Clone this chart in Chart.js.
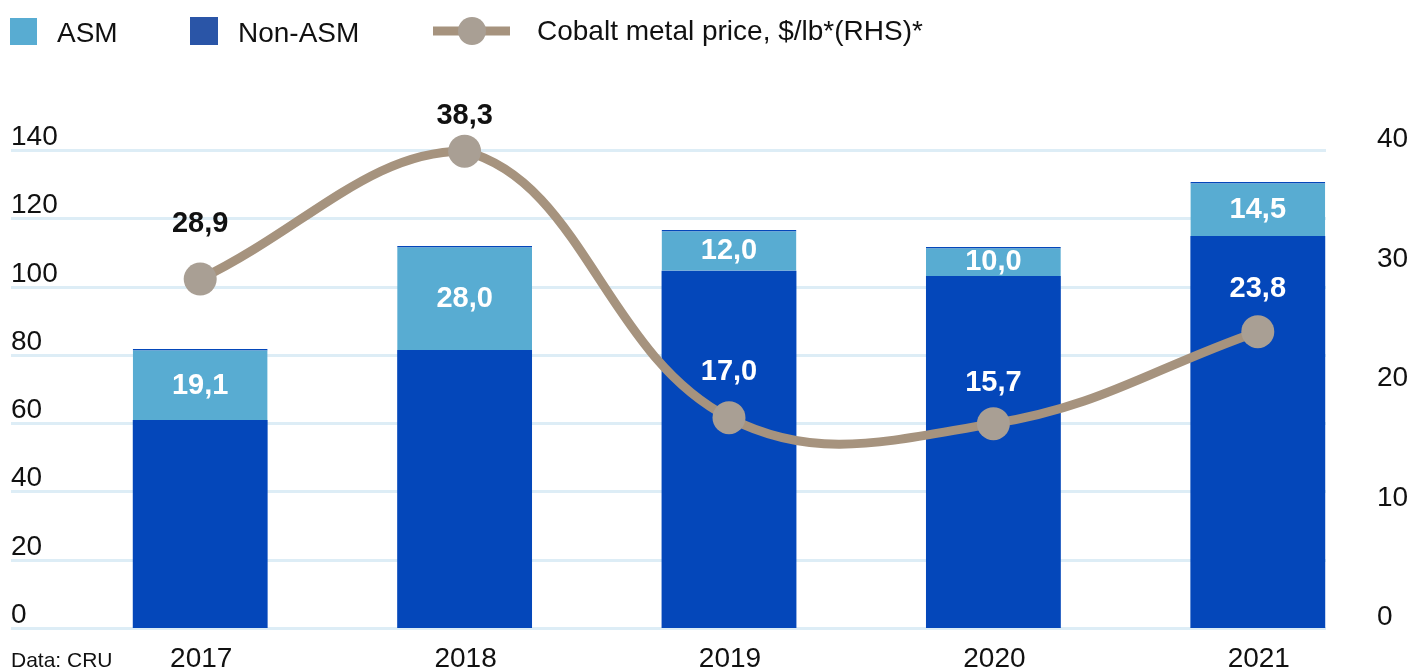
<!DOCTYPE html>
<html>
<head>
<meta charset="utf-8">
<script src="https://cdn.jsdelivr.net/npm/chart.js@4"></script>
<style>
    body { margin: 0; background: #fff; }
    #wrap { width: 1412px; height: 670px; }
</style>
</head>
<body>
<div id="wrap"><canvas id="cobaltChart" width="1412" height="670"></canvas></div>
<script>
"use strict";

// Chart data (thousand tonnes, LHS) and price ($/lb, RHS)
const years = ["2017", "2018", "2019", "2020", "2021"];
const nonAsmValues = [60.9, 81.4, 104.6, 103.1, 114.8];
const asmValues = [20.8, 30.5, 12.0, 8.5, 15.8];
const asmLabels = [19.1, 28.0, 12.0, 10.0, 14.5];
const priceValues = [29.2, 39.9, 17.6, 17.1, 24.8];
const priceLabels = [28.9, 38.3, 17.0, 15.7, 23.8];
const leftTicks = [0, 20, 40, 60, 80, 100, 120, 140];
const rightTicks = [0, 10, 20, 30, 40];

const FONT = "'Liberation Sans', Arial, Helvetica, sans-serif";
const ASM_COLOR = "#58acd2";
const NON_ASM_COLOR = "#0447ba";
const LINE_COLOR = "#a6937e";
const POINT_COLOR = "#a99f94";

function fmt(v) {
    return v.toFixed(1).replace(".", ",");
}

const cobaltDecor = {
    id: "cobaltDecor",
    beforeDatasetsDraw(chart) {
        const { ctx, scales: { y } } = chart;
        ctx.save();
        ctx.strokeStyle = "#ddedf6";
        ctx.lineWidth = 3;
        leftTicks.forEach(v => {
            const py = Math.round(y.getPixelForValue(v)) + 0.5;
            ctx.beginPath();
            ctx.moveTo(11, py);
            ctx.lineTo(1326, py);
            ctx.stroke();
        });
        ctx.restore();
    },
    afterDatasetsDraw(chart) {
        const { ctx, scales: { x, y, y2 } } = chart;
        ctx.save();

        // Axis ticks
        ctx.font = "28px " + FONT;
        ctx.fillStyle = "#111";
        ctx.textBaseline = "alphabetic";
        ctx.textAlign = "left";
        leftTicks.forEach(v => {
            ctx.fillText(String(v), 11, y.getPixelForValue(v) - 5);
        });
        rightTicks.forEach(v => {
            ctx.fillText(String(v), 1377, y2.getPixelForValue(v) - 3);
        });
        ctx.textAlign = "center";
        years.forEach((yr, i) => {
            ctx.fillText(yr, x.getPixelForValue(i) + 1, 667);
        });
        ctx.textAlign = "left";
        ctx.font = "21px " + FONT;
        ctx.fillText("Data: CRU", 11, 667);

        // ASM labels, centred in their segment
        ctx.font = "bold 29px " + FONT;
        ctx.textAlign = "center";
        ctx.textBaseline = "middle";
        ctx.fillStyle = "#fff";
        const asmMeta = chart.getDatasetMeta(1);
        asmMeta.data.forEach((bar, i) => {
            ctx.fillText(fmt(asmLabels[i]), bar.x, (bar.y + bar.base) / 2 + 1);
        });

        // Price labels above points
        const lift = [55, 35, 46, 41, 43];
        const lineMeta = chart.getDatasetMeta(2);
        lineMeta.data.forEach((pt, i) => {
            ctx.fillStyle = i < 2 ? "#111" : "#fff";
            ctx.fillText(fmt(priceLabels[i]), pt.x, pt.y - lift[i]);
        });
        ctx.restore();
    },
    afterDraw(chart) {
        const { ctx } = chart;
        ctx.save();
        ctx.fillStyle = ASM_COLOR;
        ctx.fillRect(10, 18, 27, 27);
        ctx.fillStyle = "#2a55a7";
        ctx.fillRect(190, 17, 28, 28);

        ctx.strokeStyle = LINE_COLOR;
        ctx.lineWidth = 9;
        ctx.beginPath();
        ctx.moveTo(433, 31);
        ctx.lineTo(510, 31);
        ctx.stroke();
        ctx.fillStyle = POINT_COLOR;
        ctx.beginPath();
        ctx.arc(472, 31, 14, 0, Math.PI * 2);
        ctx.fill();

        ctx.font = "28px " + FONT;
        ctx.fillStyle = "#111";
        ctx.textBaseline = "alphabetic";
        ctx.textAlign = "left";
        ctx.fillText("ASM", 57, 42);
        ctx.fillText("Non-ASM", 238, 42);
        ctx.fillText("Cobalt metal price, $/lb*(RHS)*", 537, 40);
        ctx.restore();
    }
};

new Chart(document.getElementById("cobaltChart"), {
    type: "bar",
    data: {
        labels: years,
        datasets: [
            {
                label: "Non-ASM",
                data: nonAsmValues,
                backgroundColor: NON_ASM_COLOR,
                borderWidth: 0,
                yAxisID: "y",
                stack: "prod",
                order: 1,
                barPercentage: 0.51,
                categoryPercentage: 1
            },
            {
                label: "ASM",
                data: asmValues,
                backgroundColor: ASM_COLOR,
                borderColor: NON_ASM_COLOR,
                borderWidth: { top: 1.5, left: 0, right: 0, bottom: 0 },
                borderSkipped: false,
                yAxisID: "y",
                stack: "prod",
                order: 2,
                barPercentage: 0.51,
                categoryPercentage: 1
            },
            {
                type: "line",
                label: "Cobalt metal price, $/lb*(RHS)*",
                data: priceValues,
                yAxisID: "y2",
                borderColor: LINE_COLOR,
                borderWidth: 9,
                tension: 0.4,
                pointRadius: 16.5,
                pointBackgroundColor: POINT_COLOR,
                pointBorderWidth: 0,
                clip: false,
                order: 0
            }
        ]
    },
    options: {
        responsive: false,
        animation: false,
        layout: { padding: { left: 68, right: 22, top: 150, bottom: 42 } },
        plugins: {
            legend: { display: false },
            tooltip: { enabled: false }
        },
        scales: {
            x: { display: false, stacked: true, offset: true },
            y: { display: false, stacked: true, min: 0, max: 140 },
            y2: { display: false, position: "right", min: 0, max: 40 }
        }
    },
    plugins: [cobaltDecor]
});
</script>
</body>
</html>
